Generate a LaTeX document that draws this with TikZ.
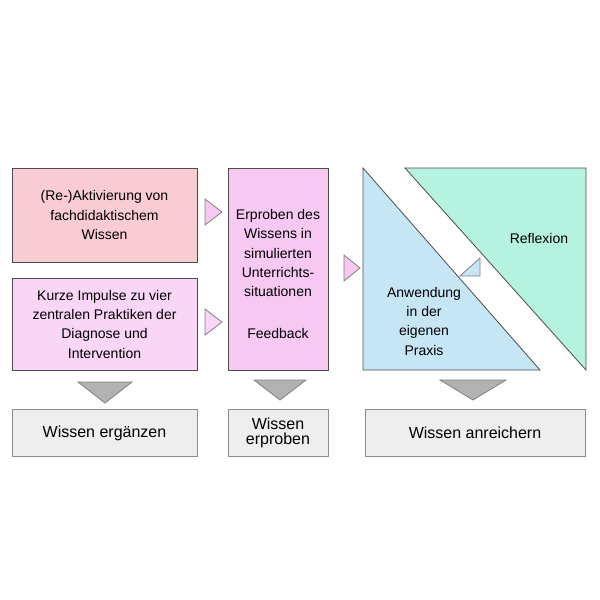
\documentclass[tikz,border=0pt]{standalone}
\usepackage{fontspec}
\setmainfont{Liberation Sans}
\usepackage{tikz}
\usetikzlibrary{positioning}
\definecolor{rotpink}{RGB}{249,203,210}
\definecolor{hellpink}{RGB}{249,214,246}
\definecolor{lila}{RGB}{246,200,242}
\definecolor{hellblau}{RGB}{198,230,246}
\definecolor{tuerkis}{RGB}{182,242,224}
\definecolor{grau}{RGB}{238,238,238}
\tikzset{
  feld/.style={draw=black!70,line width=0.6pt,align=center,font=\fontsize{10.5}{14.5}\selectfont},
  ziel/.style={draw=black!45,fill=grau,line width=0.6pt,align=center,font=\fontsize{12}{12}\selectfont},
  pfeil/.style={draw=black!50,line width=0.6pt},
}
\begin{document}
\begin{tikzpicture}[x=0.75pt,y=0.75pt,yscale=-1,xscale=1]
\path[use as bounding box] (0,0) rectangle (600,600);

%Boxes left
\node[feld,fill=rotpink,minimum width=138.75pt,minimum height=70.5pt] (akt) at (104.5,215) {(Re-)Aktivierung von\\fachdidaktischem\\Wissen};
\node[feld,fill=hellpink,minimum width=138.75pt,minimum height=69pt] (imp) at (104.5,324) {Kurze Impulse zu vier\\zentralen Praktiken der\\Diagnose und\\Intervention};
\node[feld,fill=lila,minimum width=75pt,minimum height=151.5pt] (erp) at (278,269) {};
\node[align=center,font=\fontsize{10.5}{14.5}\selectfont] (erptxt) at (278,253) {Erproben des\\Wissens in\\simulierten\\Unterrichts-\\situationen};
\node[font=\fontsize{10.5}{14.5}\selectfont] (fb) at (278,333) {Feedback};

%small triangles
\draw[pfeil,fill=lila] (205,199) -- (222,212) -- (205,225) -- cycle;
\draw[pfeil,fill=hellpink] (205,309) -- (222,322) -- (205,335) -- cycle;
\draw[pfeil,fill=lila] (344,255) -- (360,268) -- (344,281) -- cycle;

%triangles right
\draw[draw=black!70,line width=0.6pt,fill=hellblau] (363,168) -- (363,370) -- (540,370) -- cycle;
\draw[draw=black!70,line width=0.6pt,fill=tuerkis] (405,168) -- (586,168) -- (586,370) -- cycle;
\draw[pfeil,fill=hellblau] (460,276) -- (480,276) -- (480,258) -- cycle;
\node[font=\fontsize{10.5}{14.5}\selectfont] (refl) at (539,238) {Reflexion};
\node[align=center,font=\fontsize{10.5}{14.5}\selectfont] (anw) at (424,321) {Anwendung\\in der\\eigenen\\Praxis};

%down triangles
\draw[pfeil,fill=black!30] (78,382) -- (132,382) -- (105,403) -- cycle;
\draw[pfeil,fill=black!30] (254,380) -- (306,380) -- (280,400) -- cycle;
\draw[pfeil,fill=black!30] (440,380) -- (506,380) -- (473,400) -- cycle;

%bottom boxes
\node[ziel,minimum width=138.75pt,minimum height=35pt] (erg) at (104.5,433) {Wissen ergänzen};
\node[ziel,minimum width=75pt,minimum height=35pt,font=\fontsize{12}{11}\selectfont] (erpr) at (278,433) {Wissen\\erproben};
\node[ziel,minimum width=165pt,minimum height=35pt] (anr) at (475,433) {Wissen anreichern};
\end{tikzpicture}
\end{document}
